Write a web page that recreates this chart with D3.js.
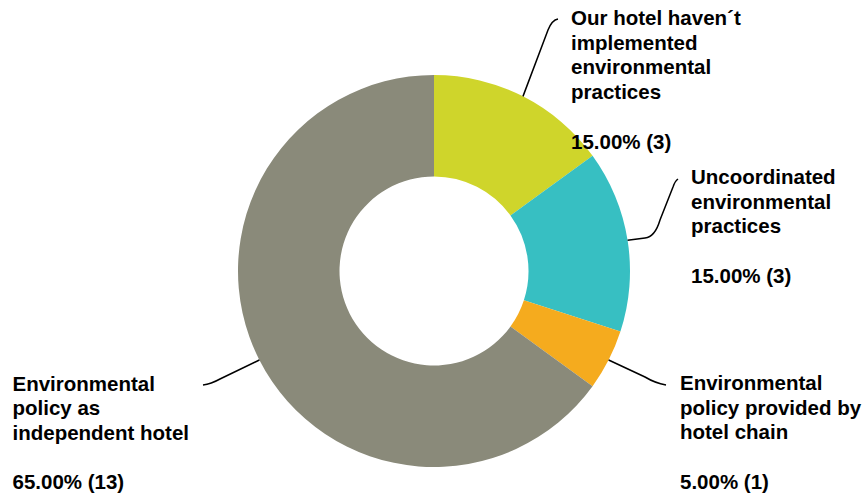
<!DOCTYPE html>
<html>
  <head>
    <meta charset="utf-8">
    <title>Environmental practices</title>
    <script src="https://cdnjs.cloudflare.com/ajax/libs/d3/7.8.5/d3.min.js"></script>
    <style>
      body { margin: 0; background: #fff; }
      svg { display: block; }
      .label { font-family: "Liberation Sans", Arial, sans-serif; font-weight: bold; font-size: 20.5px; fill: #000; }
      .leader { fill: none; stroke: #000; stroke-width: 1.5; }
    </style>
  </head>

  <body>
    <svg id="chart" width="866" height="500"></svg>

    <script>
      // data
      categories = [
        "Our hotel haven\u00b4t implemented environmental practices",
        "Uncoordinated environmental practices",
        "Environmental policy provided by hotel chain",
        "Environmental policy as independent hotel"
      ];
      counts = [3, 3, 1, 13];
      percents = [15, 15, 5, 65];
      colours = ["#cfd52b", "#37bfc2", "#f5ab1e", "#8a8a7a"];

      // label lines as wrapped in the original
      labelLines = [
        ["Our hotel haven\u00b4t", "implemented", "environmental", "practices"],
        ["Uncoordinated", "environmental", "practices"],
        ["Environmental", "policy provided by", "hotel chain"],
        ["Environmental", "policy as", "independent hotel"]
      ];

      // layout
      cx = 434;
      cy = 271;
      outerR = 196;
      innerR = 94.5;
      lineH = 24.7;
      // label text origin (x, first baseline) and leader path bends
      labelPos = [
        { x: 571, y: 25, bend: [[548, 30], [552, 20], [558, 19]] },
        { x: 691, y: 184, bend: [[645, 238], [655, 237], [660, 220], [673, 187], [675, 181], [678, 179]] },
        { x: 680, y: 390, bend: [[645, 377], [655, 383], [666, 385]] },
        { x: 12.5, y: 390.5, bend: [[220, 379], [211, 384], [203, 385]] }
      ];

      svg = d3.select("#chart");
      g = svg.append("g").attr("transform", "translate(" + cx + "," + cy + ")");

      pie = d3.pie().sort(null).value(function(d) { return d; });
      arcs = pie(counts);
      arc = d3.arc().innerRadius(innerR).outerRadius(outerR);

      g.selectAll(".slice")
        .data(arcs)
        .enter().append("path")
          .classed("slice", true)
          .attr("d", arc)
          .attr("fill", function(d, i) { return colours[i]; });

      // leader lines, starting on the outer edge at each slice's middle angle
      svg.selectAll(".leader")
        .data(arcs)
        .enter().append("path")
          .classed("leader", true)
          .attr("d", function(d, i) {
            let a = (d.startAngle + d.endAngle) / 2;
            let sx = cx + outerR * Math.sin(a);
            let sy = cy - outerR * Math.cos(a);
            let b = labelPos[i].bend;
            let p = d3.path();
            p.moveTo(sx, sy);
            for (let k = 0; k < b.length; k += 3) {
              p.lineTo(b[k][0], b[k][1]);
              p.quadraticCurveTo(b[k + 1][0], b[k + 1][1], b[k + 2][0], b[k + 2][1]);
            }
            return p.toString();
          });

      // labels
      labels = svg.selectAll(".label")
        .data(arcs)
        .enter().append("text")
          .classed("label", true)
          .attr("x", function(d, i) { return labelPos[i].x; })
          .attr("y", function(d, i) { return labelPos[i].y; });

      labels.each(function(d, i) {
        let t = d3.select(this);
        let lines = labelLines[i];
        lines.forEach(function(line, k) {
          t.append("tspan")
            .attr("x", labelPos[i].x)
            .attr("y", labelPos[i].y + k * lineH)
            .text(line);
        });
        t.append("tspan")
          .attr("x", labelPos[i].x)
          .attr("y", labelPos[i].y + (lines.length + 1) * lineH)
          .text(percents[i].toFixed(2) + "% (" + counts[i] + ")");
      });
    </script>
  </body>
</html>
